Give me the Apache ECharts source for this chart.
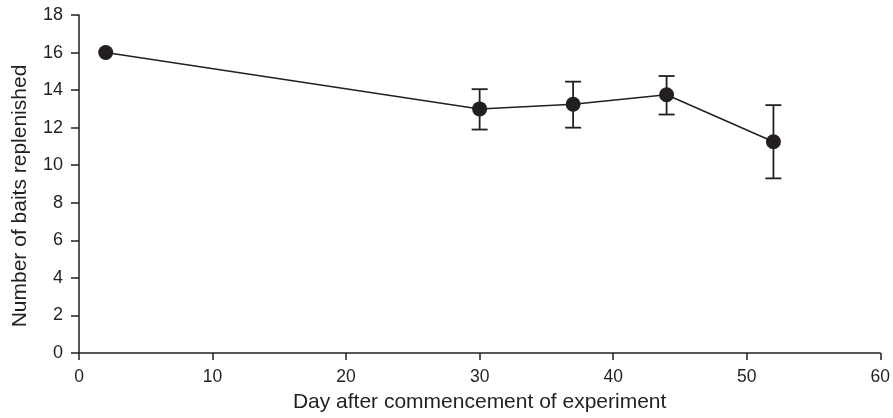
<!DOCTYPE html>
<html>
<head>
<meta charset="utf-8">
<script src="https://cdn.jsdelivr.net/npm/echarts@6/dist/echarts.min.js"></script>
<style>html,body{margin:0;padding:0;background:#fff}#c{width:893px;height:418px}</style>
</head>
<body>
<div id="c"></div>
<script>
const days = [2, 30, 37, 44, 52];
const means = [16, 13, 13.25, 13.75, 11.25];
const lower = [null, 11.9, 12.0, 12.7, 9.3];
const upper = [null, 14.05, 14.45, 14.75, 13.2];
const xTicks = [0, 10, 20, 30, 40, 50, 60];
const yTicks = [0, 2, 4, 6, 8, 10, 12, 14, 16, 18];

const ink = '#231f20';
const font = '"Liberation Sans", Arial, sans-serif';
const chart = echarts.init(document.getElementById('c'));
const lineData = days.map((d, i) => [d, means[i]]);
const errData = days.map((d, i) => [d, lower[i], upper[i]]).filter(r => r[1] != null);

chart.setOption({
  animation: false,
  grid: {left: 79, right: 12, top: 15, bottom: 61.5},
  xAxis: {
    type: 'value', min: xTicks[0], max: xTicks[xTicks.length-1], interval: 10,
    name: 'Day after commencement of experiment', nameLocation: 'middle', nameGap: 39,
    nameTextStyle: {color: ink, fontSize: 21, fontFamily: font},
    axisLine: {lineStyle: {color: ink, width: 1.5}},
    axisTick: {lineStyle: {color: ink, width: 1.5}, length: 7},
    axisLabel: {color: ink, fontSize: 17.5, fontFamily: font, margin: 15},
    splitLine: {show: false}
  },
  yAxis: {
    type: 'value', min: yTicks[0], max: yTicks[yTicks.length-1], interval: 2,
    name: 'Number of baits replenished', nameLocation: 'middle', nameGap: 48,
    nameTextStyle: {color: ink, fontSize: 21, fontFamily: font, padding: [0, 24, 0, 0]},
    axisLine: {show: true, lineStyle: {color: ink, width: 1.5}},
    axisTick: {show: true, lineStyle: {color: ink, width: 1.5}, length: 8},
    axisLabel: {color: ink, fontSize: 18, fontFamily: font, margin: 16},
    splitLine: {show: false}
  },
  series: [
    {
      type: 'custom',
      data: errData,
      z: 3,
      renderItem: function (params, api) {
        const x = api.value(0);
        const lo = api.coord([x, api.value(1)]);
        const hi = api.coord([x, api.value(2)]);
        const hw = 8;
        const st = {stroke: ink, lineWidth: 1.8};
        return {
          type: 'group',
          children: [
            {type: 'line', shape: {x1: lo[0], y1: lo[1], x2: hi[0], y2: hi[1]}, style: st},
            {type: 'line', shape: {x1: lo[0]-hw, y1: lo[1], x2: lo[0]+hw, y2: lo[1]}, style: st},
            {type: 'line', shape: {x1: hi[0]-hw, y1: hi[1], x2: hi[0]+hw, y2: hi[1]}, style: st}
          ]
        };
      }
    },
    {
      type: 'line',
      data: lineData,
      z: 4,
      symbol: 'circle', symbolSize: 15,
      lineStyle: {color: ink, width: 1.5},
      itemStyle: {color: ink, borderWidth: 0}
    }
  ]
});
</script>
</body>
</html>
